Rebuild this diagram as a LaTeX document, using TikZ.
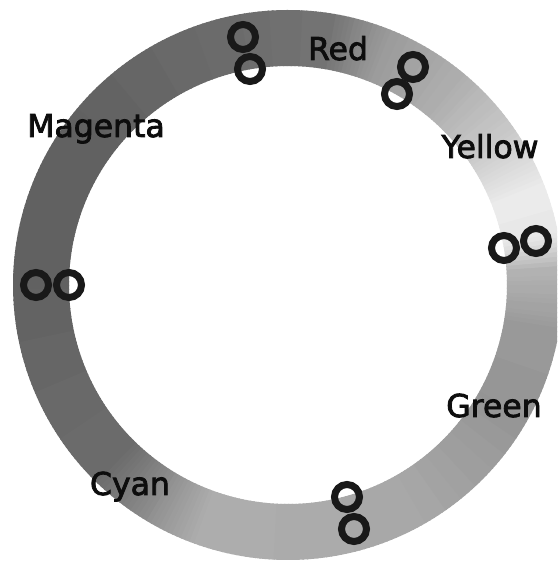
\documentclass[tikz,border=0pt]{standalone}
\usepackage{fontspec}
\newfontfamily\lab{DejaVu Sans}[FakeBold=2.5]
\begin{document}
\begin{tikzpicture}[x=1pt,y=1pt,
  lab/.style={font=\lab\fontsize{31.5}{36}\selectfont, text=black!95, anchor=base, inner sep=0pt},
  ringdot/.style={circle, draw=black!90, line width=7pt, minimum size=25pt, inner sep=0pt}]
\useasboundingbox (0,0) rectangle (557,564);
\clip (0,0) rectangle (557,564);
\fill[white] (0,0) rectangle (557,564);
\begin{scope}[shift={(288,279)}]
\foreach \a/\b/\ga/\gb in {-180/-135/62/58, -135/-122/58/45, -122/-110/45/32, -110/-60/32/35,
  -60/-30/35/42, -30/-10/42/40, -10/3/40/30, 3/10/30/10, 10/20/10/8, 20/35/8/22,
  35/50/22/32, 50/68/32/40, 68/80/40/55, 80/100/55/58, 100/140/58/62, 140/180/62/62}{
  \pgfmathtruncatemacro\n{\b-\a-1}
  \foreach \i in {0,...,\n}{
    \pgfmathsetmacro\s{\a+\i}
    \pgfmathsetmacro\e{\s+1.3}
    \pgfmathtruncatemacro\g{\ga+(\gb-\ga)*\i/(\b-\a)}
    \fill[black!\g] (\s:219) arc[start angle=\s,end angle=\e,radius=219] -- (\e:275) arc[start angle=\e,end angle=\s,radius=275] -- cycle;
  }
}
\end{scope}
% circle pairs
\node[ringdot] (topA) at (243,527) {};
\node[ringdot] (topB) at (250,495) {};
\node[ringdot] (trA) at (413,497) {};
\node[ringdot] (trB) at (397,470) {};
\node[ringdot] (rA) at (536,323) {};
\node[ringdot] (rB) at (504,316) {};
\node[ringdot] (lA) at (36,279) {};
\node[ringdot] (lB) at (69,279) {};
\node[ringdot] (bA) at (347,67) {};
\node[ringdot] (bB) at (354,35) {};
% labels
\node[lab] (red) at (338,504) {Red};
\node[lab] (yellow) at (490,406) {Yellow};
\node[lab] (magenta) at (96,427) {Magenta};
\node[lab] (green) at (494,147) {Green};
\node[lab] (cyan) at (130,69) {Cyan};
\end{tikzpicture}
\end{document}
